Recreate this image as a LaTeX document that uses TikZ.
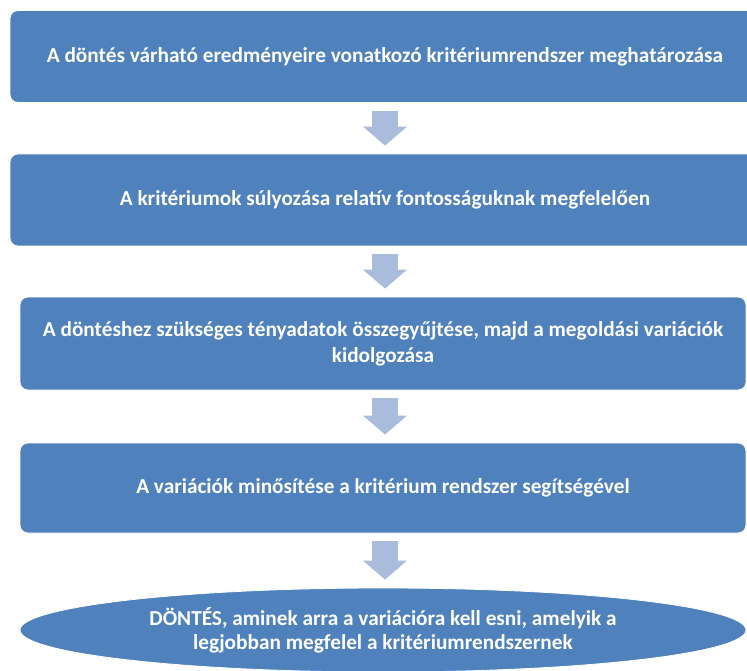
\documentclass[tikz,border=0pt]{standalone}
\usepackage{fontspec}
\setmainfont{Carlito}
\usetikzlibrary{shapes.geometric,arrows.meta}
\definecolor{stepblue}{HTML}{4F81BD}
\definecolor{flowblue}{HTML}{A9BCDB}
\tikzset{
  stepbox/.style={rectangle, rounded corners=8pt, fill=stepblue, draw=white,
    line width=0.8pt, text=white, align=center, inner sep=0pt,
    font=\fontsize{21.3}{26}\selectfont\bfseries},
  finalstep/.style={ellipse, fill=stepblue, draw=white, line width=0.8pt,
    text=white, align=center, inner sep=0pt,
    font=\fontsize{21.3}{24}\selectfont\bfseries},
  flow/.style={draw=flowblue, line width=26pt, line cap=butt,
    -{Triangle[width=43pt,length=19pt]},
    shorten <=8pt, shorten >=8pt}
}
\begin{document}
\begin{tikzpicture}[x=1pt,y=-1pt]
\useasboundingbox (0,0) rectangle (747,671);
\clip (0,0) rectangle (747,671);
\node[stepbox, minimum width=750pt, minimum height=92pt] (b1) at (385,56.5)
  {A döntés várható eredményeire vonatkozó kritériumrendszer meghatározása};
\node[stepbox, minimum width=750pt, minimum height=92pt] (b2) at (385,200)
  {A kritériumok súlyozása relatív fontosságuknak megfelelően};
\node[stepbox, minimum width=726pt, minimum height=93pt] (b3) at (383,343.5)
  {A döntéshez szükséges tényadatok összegyűjtése, majd a megoldási variációk\\kidolgozása};
\node[stepbox, minimum width=726pt, minimum height=90pt] (b4) at (383,488)
  {A variációk minősítése a kritérium rendszer segítségével};
\node[finalstep, minimum width=726pt, minimum height=84pt] (e) at (383,630)
  {DÖNTÉS, aminek arra a variációra kell esni, amelyik a\\legjobban megfelel a kritériumrendszernek};
\draw[flow] (b1.south) -- (b1.south |- b2.north);
\draw[flow] (b2.south) -- (b2.south |- b3.north);
\draw[flow] (b3.south -| b2.south) -- (b2.south |- b4.north);
\draw[flow] (b4.south -| b2.south) -- (b2.south |- e.north);
\end{tikzpicture}
\end{document}
